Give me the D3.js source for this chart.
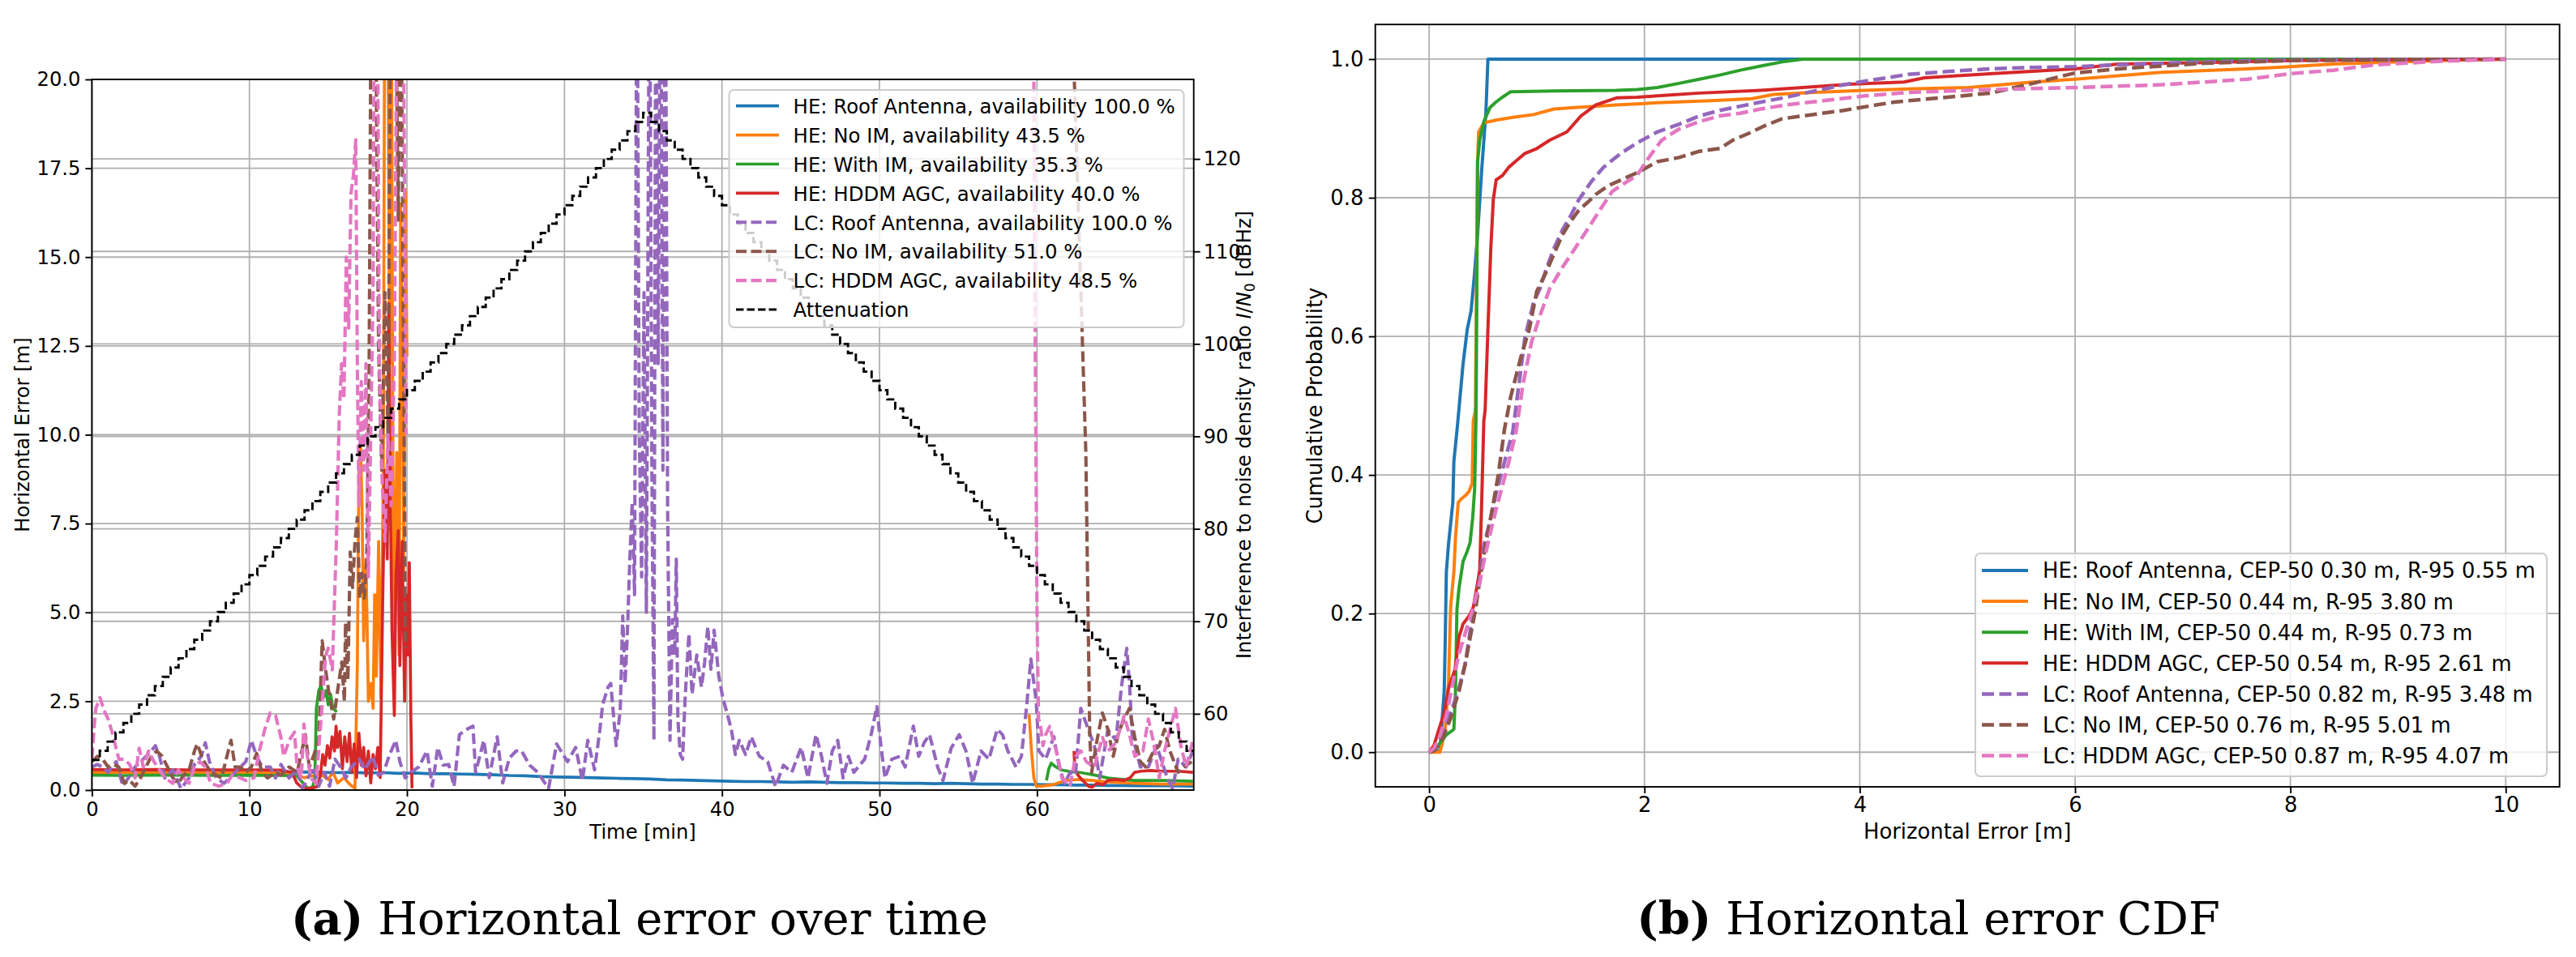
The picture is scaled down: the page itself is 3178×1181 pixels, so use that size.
<!DOCTYPE html>
<html><head><meta charset="utf-8">
<script src="https://cdn.jsdelivr.net/npm/d3@7"></script>
<style>
body{margin:0;background:#fff}
svg{display:block}
text{font-family:"DejaVu Sans",sans-serif;fill:#000}
</style>
</head><body>
<svg id="c" width="3178" height="1181"></svg>
<script>
// ---------------- DATA ----------------
const seriesNames = ["HE: Roof Antenna","HE: No IM","HE: With IM","HE: HDDM AGC","LC: Roof Antenna","LC: No IM","LC: HDDM AGC"];
const availability = ["100.0","43.5","35.3","40.0","100.0","51.0","48.5"];
const cep50 = ["0.30","0.44","0.44","0.54","0.82","0.76","0.87"];
const r95 = ["0.55","3.80","0.73","2.61","3.48","5.01","4.07"];
const attName = "Attenuation";

const timeTicks = [0,10,20,30,40,50,60];
const errTicks = [0,2.5,5,7.5,10,12.5,15,17.5,20];
const attTicks = [60,70,80,90,100,110,120];
const cdfXTicks = [0,2,4,6,8,10];
const cdfYTicks = [0,0.2,0.4,0.6,0.8,1.0];

// horizontal error over time: [time min, error m], split in available segments
const heRoof = [[[0,0.52],[0.8,0.53],[1.6,0.51],[2.5,0.53],[3.5,0.52],[4.5,0.51],[5.5,0.53],[6.5,0.52],[7.5,0.51],[8.5,0.52],[9.5,0.5],[10.5,0.52],[11.5,0.51],[12.5,0.5],[13.5,0.51],[14.5,0.5],[15.5,0.49],[16.5,0.5],[17.5,0.48],[18.5,0.49],[19.5,0.47],[20.5,0.48],[21.5,0.46],[22.5,0.46],[23.5,0.45],[24.5,0.44],[25.5,0.43],[26.5,0.41],[27.5,0.4],[28.5,0.38],[29.5,0.37],[30.5,0.36],[31.5,0.35],[32.5,0.34],[33.5,0.33],[34.5,0.32],[35.5,0.31],[36.5,0.29],[37.5,0.28],[38.5,0.27],[39.5,0.26],[40.5,0.25],[41.5,0.24],[42.5,0.24],[43.5,0.23],[44.5,0.22],[45.5,0.23],[46.5,0.22],[47.5,0.21],[48.5,0.21],[49.5,0.2],[50.5,0.2],[51.5,0.19],[52.5,0.19],[53.5,0.18],[54.5,0.19],[55.5,0.18],[56.5,0.17],[57.5,0.17],[58.5,0.16],[59.5,0.16],[60.5,0.15],[61.5,0.15],[62.5,0.14],[63.5,0.14],[64.5,0.13],[65.5,0.13],[66.5,0.12],[67.5,0.12],[68.5,0.12],[69.9,0.11]]];

const heNoIM = [
 [[0,0.5],[2,0.5],[4,0.49],[6,0.5],[8,0.49],[10,0.5],[12,0.48],[13,0.42],[13.5,0.35],[14,0.4],[14.5,0.45],[15,0.3],[15.3,0.5],[15.6,0.2],[16,0.35],[16.4,0.15],[16.7,0.05],[16.85,3.5],[16.95,9],[17.05,9.8],[17.15,8],[17.25,4.2],[17.4,6.5],[17.55,2.5],[17.7,3],[17.85,2.3],[17.95,5.5],[18.05,3.2],[18.2,7],[18.35,2.6],[18.5,9],[18.6,25],[18.75,25],[18.9,12],[19.0,25],[19.1,10],[19.2,4],[19.35,9.5],[19.5,3.8],[19.6,16.5],[19.7,12],[19.8,6],[19.9,16.9],[20.0,12.2]],
 [[59.5,2.13],[59.65,1.1],[59.8,0.34],[59.95,0.11],[60.3,0.11],[61,0.15],[61.8,0.27],[62.7,0.3],[63.5,0.27],[64.5,0.23],[66.2,0.19],[68,0.17],[69.9,0.17]]
];

const heWithIM = [
 [[0,0.42],[2,0.41],[4,0.42],[6,0.42],[8,0.41],[10,0.42],[12,0.41],[13,0.4],[13.4,0.2],[13.7,0.05],[14.0,0.08],[14.15,0.3],[14.25,2.3],[14.4,2.8],[14.55,2.95],[14.7,2.6],[14.85,2.8],[15.0,2.4],[15.15,2.7],[15.3,2.3],[15.55,2.2]],
 [[60.6,0.27],[60.75,0.6],[60.9,0.76],[61.1,0.68],[61.5,0.57],[62,0.53],[62.8,0.49],[63.7,0.42],[64.5,0.34],[65.4,0.3],[66.2,0.27],[68,0.27],[69.9,0.25]]
];

const heHddm = [
 [[0,0.58],[2,0.57],[4,0.58],[6,0.57],[8,0.57],[10,0.57],[12,0.56],[12.7,0.5],[13.0,0.2],[13.3,0.08],[13.6,0.04],[14.0,0.06],[14.3,0.1],[14.5,0.4],[14.65,1.0],[14.8,0.7],[14.95,1.25],[15.1,0.9],[15.25,1.5],[15.4,1.1],[15.5,1.8],[15.6,1.2],[15.75,1.65],[15.9,0.6],[16.05,1.5],[16.2,0.8],[16.35,1.6],[16.5,0.5],[16.65,1.3],[16.8,0.35],[16.95,1.6],[17.1,0.7],[17.25,1.2],[17.4,0.4],[17.55,1.1],[17.7,0.2],[17.85,1.0],[18.0,0.6],[18.15,1.2],[18.3,0.35],[18.45,5],[18.6,9],[18.75,6.5],[18.85,13.7],[18.95,8],[19.05,4.5],[19.2,2.1],[19.3,6],[19.45,7.3],[19.55,3.5],[19.7,7.0],[19.85,2.5],[19.95,5.5],[20.05,3.8],[20.15,6.4],[20.25,2],[20.32,0.05]],
 [[62.35,1.1],[62.4,0.6],[62.6,0.42],[62.9,0.27],[63.3,0.1],[63.5,0.08],[63.8,0.19],[64.2,0.15],[64.5,0.27],[65,0.3],[65.5,0.27],[65.9,0.34],[66.2,0.5],[66.6,0.53],[67.2,0.55],[68,0.53],[69,0.53],[69.9,0.5]]
];

const lcRoof = [[[0,0.65],[0.34,0.72],[0.68,0.65],[1.03,0.5],[1.54,0.8],[1.97,0.11],[2.31,0.34],[2.74,0.65],[3.26,0.87],[3.77,1.1],[4.03,1.25],[4.29,0.95],[4.63,0.34],[5.14,0.57],[5.66,0.04],[6.17,0.34],[6.51,0.72],[6.94,0.95],[7.2,1.33],[7.46,0.8],[7.89,0.34],[8.4,0.19],[8.91,0.42],[9.43,0.65],[9.77,0.8],[10.12,1.4],[10.46,0.95],[10.8,0.65],[11.32,0.65],[11.66,0.34],[12.0,0.72],[12.52,0.34],[13.03,0.57],[13.38,0.04],[13.72,0.34],[14.06,0.65],[14.4,0.11],[14.75,0.5],[15.09,0.11],[15.43,0.87],[15.78,0.65],[16.12,0.34],[16.46,0.65],[16.98,0.87],[17.32,0.57],[17.83,0.95],[18.18,0.42],[18.52,0.5],[18.86,0.95],[19.29,1.4],[19.55,0.8],[19.89,0.34],[20.24,0.5],[20.75,0.65],[21.27,1.1],[21.61,0.11],[21.96,1.2],[22.3,0.7],[22.65,0.72],[22.99,0.1],[23.33,1.56],[23.76,1.7],[24.19,1.8],[24.36,0.5],[24.88,1.4],[25.22,0.35],[25.73,1.5],[26.08,0.2],[26.5,0.9],[26.93,1.1],[27.28,1.1],[27.79,0.7],[28.31,0.5],[28.99,0.04],[29.5,1.3],[30.19,0.8],[30.71,1.2],[31.14,0.27],[31.48,1.4],[31.91,0.57],[32.25,1.7],[32.42,2.4],[32.77,2.9],[32.94,3.0],[33.28,1.25],[33.54,2.24],[33.7,4.9],[33.85,3.0],[34.0,4.5],[34.15,6.5],[34.3,8.1],[34.45,5.5],[34.6,25],[34.75,10],[34.9,6],[35.05,14],[35.2,5],[35.4,25],[35.55,9],[35.68,1.4],[35.8,25],[35.95,12],[36.1,25],[36.25,9],[36.4,25],[36.55,7.9],[36.7,1.4],[36.85,4.8],[37.0,3.8],[37.1,6.5],[37.2,2.0],[37.35,1.0],[37.5,0.87],[37.65,2.5],[37.9,4.4],[38.1,2.7],[38.4,3.8],[38.7,2.9],[38.9,3.6],[39.1,4.6],[39.3,3.4],[39.5,4.5],[39.8,3.2],[40.05,2.6],[40.3,2.2],[40.6,1.7],[40.85,1.0],[41.1,1.4],[41.5,1.0],[41.86,1.5],[42.37,0.95],[42.9,0.8],[43.4,0.1],[43.9,0.7],[44.43,0.5],[45.03,1.2],[45.46,0.34],[45.97,1.56],[46.32,0.95],[46.66,0.19],[47.0,1.1],[47.35,1.4],[47.69,0.34],[48.03,0.95],[48.37,0.5],[49.06,0.87],[49.49,1.6],[49.83,2.35],[50.09,1.25],[50.35,0.34],[50.78,0.87],[51.29,0.95],[51.63,0.65],[52.15,1.8],[52.49,0.95],[52.83,1.33],[53.18,1.56],[53.69,0.65],[54.03,0.27],[54.55,1.18],[55.06,1.56],[55.49,1.1],[55.92,0.19],[56.44,1.1],[56.95,0.87],[57.47,1.71],[57.81,1.56],[58.15,1.1],[58.67,0.65],[59.01,0.95],[59.35,2.4],[59.61,3.69],[59.95,2.5],[60.12,1.1],[60.55,0.87],[61.07,1.5],[61.41,0.65],[61.75,0.19],[62.1,0.5],[62.44,0.42],[62.78,2.3],[63.13,1.86],[63.64,1.25],[63.98,0.34],[64.5,1.7],[65.01,1.4],[65.36,2.9],[65.7,3.99],[65.87,3.0],[66.04,1.56],[66.56,0.65],[67.07,0.65],[67.59,1.25],[67.93,0.8],[68.27,0.34],[68.61,0.04],[68.96,0.87],[69.47,0.65],[69.9,1.1]]];

const lcNoIM = [
 [[0,0.8],[0.34,0.95],[0.68,0.87],[1.03,0.65],[1.37,0.72],[1.71,0.65],[2.05,0.19],[2.4,0.27],[2.74,0.11],[3.08,0.34],[3.43,0.65],[3.77,0.95],[4.11,1.1],[4.46,0.95],[4.8,0.65],[5.14,0.34],[5.48,0.19],[5.83,0.42],[6.17,0.57],[6.51,1.1],[6.69,1.3],[7.03,0.87],[7.54,0.5],[7.89,0.42],[8.23,0.34],[8.57,0.95],[8.83,1.4],[9.09,0.65],[9.43,0.65],[9.77,0.5],[10.12,0.65],[10.46,1.03],[10.8,0.5],[11.15,0.34],[11.66,0.5],[12.0,0.42],[12.52,0.65],[13.03,0.5],[13.55,1.56],[13.8,0.65],[14.06,0.95],[14.4,1.4],[14.62,4.2],[14.83,3.4],[15.09,2.6],[15.35,2.0],[15.6,2.8],[15.86,3.6],[16.03,2.5],[16.1,4.7],[16.25,3.1],[16.4,6.7],[16.55,5.7],[16.7,7.0],[16.85,7.67],[17.0,5.4],[17.15,6.1],[17.3,5.4],[17.45,6.5],[17.6,12],[17.75,25],[17.9,25],[18.05,20],[18.2,12.4],[18.4,9],[18.6,14],[18.8,10],[19.0,25],[19.15,25],[19.3,22],[19.45,16],[19.6,25],[19.75,15],[19.9,4]],
 [[62.2,25],[62.3,21],[63.1,9.5],[63.35,1.5],[63.47,0.5],[63.81,1.4],[64.15,2.17],[64.5,1.71],[64.84,0.95],[65.19,1.63],[65.53,2.0],[65.87,2.3],[66.21,1.48],[66.56,0.8],[66.9,0.65],[67.41,1.1],[67.76,1.25],[68.1,1.71],[68.44,1.1],[68.96,0.5],[69.3,0.65],[69.82,0.8]]
];

const lcHddm = [
 [[0,0.9],[0.15,1.8],[0.25,2.3],[0.51,2.6],[0.77,2.24],[1.03,2.0],[1.28,1.63],[1.45,1.33],[1.71,0.87],[2.05,0.87],[2.4,0.72],[2.74,0.34],[3.0,1.18],[3.26,0.65],[3.6,1.1],[3.94,0.8],[4.29,0.57],[4.63,0.34],[5.14,0.19],[5.48,0.57],[5.83,0.34],[6.17,0.19],[6.51,0.65],[6.86,0.8],[7.2,0.65],[7.54,0.19],[8.06,0.11],[8.57,0.19],[8.91,0.42],[9.43,0.34],[9.77,0.27],[10.29,0.34],[10.63,1.1],[10.97,1.7],[11.32,2.17],[11.66,2.1],[12.0,1.48],[12.18,0.95],[12.52,1.4],[12.86,1.63],[13.03,0.65],[13.29,0.34],[13.46,1.86],[13.63,1.1],[13.89,0.34],[14.23,0.19],[14.58,2.17],[14.83,3.76],[15.0,4.0],[15.26,3.38],[15.52,7],[15.7,10.5],[15.85,12],[16.0,11],[16.15,15],[16.3,13],[16.45,16.8],[16.6,17.3],[16.75,18.3],[16.85,12],[16.95,8],[17.1,11.5],[17.25,9],[17.4,12],[17.55,6],[17.7,10],[17.85,14],[17.95,25],[18.1,25],[18.25,12],[18.4,9],[18.6,7],[18.8,10],[19.0,8],[19.2,12],[19.4,25],[19.6,25],[19.8,20],[19.95,10]],
 [[59.75,25],[59.85,15],[60.0,5],[60.1,2.0],[60.21,1.86],[60.38,1.25],[60.55,1.56],[60.81,1.79],[61.07,1.33],[61.32,0.95],[61.58,0.34],[62.1,0.11],[62.44,0.95],[62.78,1.1],[63.13,0.8],[63.64,0.65],[64.15,1.48],[64.5,1.1],[65.01,1.33],[65.53,2.09],[65.87,1.56],[66.21,0.95],[66.73,1.1],[67.07,2.0],[67.41,1.33],[67.76,0.34],[68.1,1.1],[68.79,2.3],[69.13,1.25],[69.47,0.65],[69.9,1.4]]
];

// attenuation I/N0 level [dBHz], one value per half-minute step
const attStepMin = 0.5;
const attLevels = [55,56,57,58,59,60,61,62,63,64,65,66,67,68,69,70,71,72,73,74,75,76,77,78,79,80,81,82,83,84,85,86,87,88,89,90,91,92,93,94,95,96,97,98,99,100,101,102,103,104,105,106,107,108,109,110,111,112,113,114,115,116,117,118,119,120,121,122,123,124,125,
 124,123,122,121,120,119,118,117,116,115,114,113,112,111,110,109,108,107,106,105,104,103,102,101,100,99,98,97,96,95,94,93,92,91,90,89,88,87,86,85,84,83,82,81,80,79,78,77,76,75,74,73,72,71,70,69,68,67,66,65,64,63,62,61,60,59,58,57,56];

// CDF: [horizontal error m, cumulative probability]
const cdfHeRoof = [[0,0],[0.1,0.002],[0.12,0.045],[0.14,0.088],[0.15,0.166],[0.16,0.26],[0.18,0.30],[0.22,0.36],[0.23,0.42],[0.26,0.466],[0.315,0.56],[0.354,0.61],[0.39,0.637],[0.42,0.688],[0.45,0.747],[0.49,0.844],[0.527,0.922],[0.546,1.0],[10,1.0]];
const cdfHeNoIM = [[0,0],[0.1,0],[0.13,0.018],[0.15,0.033],[0.18,0.10],[0.2,0.21],[0.23,0.26],[0.245,0.31],[0.27,0.36],[0.296,0.365],[0.335,0.37],[0.37,0.376],[0.4,0.388],[0.41,0.478],[0.43,0.493],[0.45,0.852],[0.46,0.895],[0.508,0.908],[0.62,0.912],[0.78,0.916],[0.97,0.92],[1.16,0.928],[1.35,0.93],[1.74,0.934],[2.12,0.937],[2.62,0.94],[3.0,0.943],[3.2,0.949],[3.58,0.952],[4.05,0.955],[4.45,0.957],[5.01,0.959],[5.61,0.967],[6.0,0.971],[6.8,0.981],[7.6,0.986],[8.0,0.989],[8.4,0.993],[8.8,0.995],[9.4,0.998],[10,1.0]];
const cdfHeWithIM = [[0,0],[0.085,0.01],[0.16,0.025],[0.23,0.033],[0.245,0.088],[0.258,0.205],[0.277,0.236],[0.315,0.275],[0.354,0.29],[0.38,0.302],[0.404,0.337],[0.423,0.38],[0.435,0.478],[0.438,0.532],[0.45,0.852],[0.47,0.883],[0.508,0.91],[0.565,0.93],[0.62,0.938],[0.68,0.945],[0.758,0.953],[1.16,0.954],[1.74,0.955],[1.93,0.956],[2.12,0.959],[2.32,0.965],[2.51,0.971],[2.7,0.977],[2.89,0.984],[3.08,0.99],[3.28,0.996],[3.47,1.0],[10,1.0]];
const cdfHeHddm = [[0,0],[0.046,0.01],[0.085,0.03],[0.14,0.057],[0.18,0.092],[0.24,0.119],[0.277,0.166],[0.315,0.185],[0.373,0.197],[0.41,0.209],[0.45,0.244],[0.47,0.263],[0.488,0.36],[0.508,0.478],[0.52,0.493],[0.546,0.61],[0.573,0.727],[0.596,0.797],[0.623,0.826],[0.68,0.832],[0.74,0.844],[0.815,0.854],[0.89,0.864],[1.0,0.871],[1.12,0.883],[1.28,0.895],[1.41,0.918],[1.55,0.934],[1.74,0.944],[1.93,0.945],[2.12,0.947],[2.51,0.951],[3.08,0.955],[3.47,0.959],[3.93,0.964],[4.41,0.967],[4.6,0.973],[5.21,0.979],[6.0,0.986],[6.4,0.993],[7.2,0.995],[8.0,0.998],[8.8,0.999],[10,1.0]];
const cdfLcRoof = [[0,0],[0.046,0.004],[0.12,0.03],[0.2,0.057],[0.277,0.092],[0.335,0.127],[0.373,0.166],[0.41,0.205],[0.47,0.251],[0.508,0.298],[0.565,0.333],[0.62,0.372],[0.68,0.407],[0.74,0.442],[0.777,0.462],[0.835,0.532],[0.89,0.598],[0.97,0.649],[1.03,0.669],[1.085,0.696],[1.16,0.727],[1.24,0.754],[1.315,0.774],[1.39,0.797],[1.51,0.824],[1.62,0.844],[1.78,0.864],[1.93,0.879],[2.12,0.895],[2.32,0.906],[2.51,0.918],[2.7,0.926],[2.89,0.932],[3.08,0.938],[3.32,0.945],[3.55,0.953],[3.85,0.963],[4.08,0.969],[4.45,0.978],[4.81,0.982],[5.21,0.986],[5.61,0.988],[6.0,0.989],[6.4,0.992],[7.2,0.996],[8.0,0.999],[10,1.0]];
const cdfLcNoIM = [[0,0],[0.046,0.002],[0.12,0.018],[0.2,0.049],[0.277,0.088],[0.335,0.127],[0.39,0.173],[0.43,0.205],[0.47,0.248],[0.527,0.302],[0.585,0.349],[0.642,0.4],[0.7,0.466],[0.758,0.513],[0.854,0.571],[0.93,0.61],[1.0,0.665],[1.085,0.692],[1.16,0.719],[1.24,0.747],[1.315,0.766],[1.39,0.782],[1.47,0.793],[1.55,0.805],[1.66,0.817],[1.815,0.828],[1.93,0.836],[2.12,0.852],[2.32,0.858],[2.51,0.867],[2.7,0.871],[2.82,0.883],[2.97,0.893],[3.12,0.904],[3.28,0.914],[3.47,0.918],[3.85,0.926],[4.08,0.932],[4.32,0.938],[4.45,0.94],[4.81,0.945],[5.21,0.951],[5.61,0.965],[5.81,0.973],[6.0,0.98],[6.4,0.986],[7.2,0.994],[8.0,0.998],[9.0,0.999],[10,1.0]];
const cdfLcHddm = [[0,0],[0.046,0.006],[0.104,0.025],[0.16,0.053],[0.22,0.1],[0.277,0.142],[0.354,0.181],[0.41,0.209],[0.47,0.244],[0.508,0.275],[0.565,0.314],[0.62,0.349],[0.68,0.384],[0.74,0.419],[0.807,0.462],[0.873,0.532],[0.95,0.591],[1.03,0.63],[1.12,0.669],[1.24,0.7],[1.355,0.727],[1.47,0.754],[1.585,0.782],[1.7,0.809],[1.815,0.821],[1.93,0.832],[2.05,0.86],[2.16,0.883],[2.32,0.899],[2.51,0.91],[2.7,0.918],[2.89,0.922],[3.08,0.928],[3.32,0.934],[3.66,0.94],[4.05,0.947],[4.45,0.952],[5.21,0.956],[6.0,0.959],[6.8,0.963],[7.2,0.967],[7.6,0.971],[8.0,0.979],[8.4,0.984],[8.8,0.992],[9.4,0.997],[10,1.0]];

const captionA = ["(a)", " Horizontal error over time"];
const captionB = ["(b)", " Horizontal error CDF"];

// ---------------- STYLE ----------------
const palette = ["#1f77b4","#ff7f0e","#2ca02c","#d62728","#9467bd","#8c564b","#e377c2"];
const dashed = [false,false,false,false,true,true,true];
const gridColor = "#b0b0b0";

// ---------------- DRAW ----------------
const svg = d3.select("#c");
const defs = svg.append("defs");

const timeSeries = [heRoof, heNoIM, heWithIM, heHddm, lcRoof, lcNoIM, lcHddm];
const cdfSeries = [cdfHeRoof, cdfHeNoIM, cdfHeWithIM, cdfHeHddm, cdfLcRoof, cdfLcNoIM, cdfLcHddm];

// ---- left panel ----
const L = {x0:113.4, x1:1472.7, y0:98, y1:975};
const xT = d3.scaleLinear().domain([0,69.95]).range([L.x0,L.x1]);
const yE = d3.scaleLinear().domain([0,20]).range([L.y1,L.y0]);
const yA = d3.scaleLinear().domain([51.75,128.6]).range([L.y1,L.y0]);
const fsL = 24.2;
const wSolidL = 3.7, wDashL = 4.1;

defs.append("clipPath").attr("id","clipL").append("rect")
  .attr("x",L.x0).attr("y",L.y0).attr("width",L.x1-L.x0).attr("height",L.y1-L.y0);

const gL = svg.append("g");
const gridL = gL.append("g").attr("stroke",gridColor).attr("stroke-width",1.8);
timeTicks.forEach(t=>gridL.append("line").attr("x1",xT(t)).attr("x2",xT(t)).attr("y1",L.y0).attr("y2",L.y1));
errTicks.forEach(v=>gridL.append("line").attr("x1",L.x0).attr("x2",L.x1).attr("y1",yE(v)).attr("y2",yE(v)));
attTicks.forEach(v=>gridL.append("line").attr("x1",L.x0).attr("x2",L.x1).attr("y1",yA(v)).attr("y2",yA(v)));

const linesL = gL.append("g").attr("clip-path","url(#clipL)");
const lineT = d3.line().x(d=>xT(d[0])).y(d=>yE(d[1]));
timeSeries.forEach((segs,i)=>{
  segs.forEach(seg=>{
    linesL.append("path").attr("d",lineT(seg)).attr("fill","none")
      .attr("stroke",palette[i]).attr("stroke-width",dashed[i]?wDashL:wSolidL)
      .attr("stroke-dasharray",dashed[i]?"13,5.5":null)
      .attr("stroke-linejoin","round");
  });
});
const attPts = attLevels.map((v,i)=>[i*attStepMin, v]);
attPts.push([attLevels.length*attStepMin, attLevels[attLevels.length-1]]);
const lineA = d3.line().x(d=>xT(d[0])).y(d=>yA(d[1])).curve(d3.curveStepAfter);
linesL.append("path").attr("d",lineA(attPts)).attr("fill","none")
  .attr("stroke","#000").attr("stroke-width",2.9).attr("stroke-dasharray","9.5,4");

// axes left panel
function styleAxis(g, fs){
  g.select(".domain").remove();
  g.selectAll(".tick line").attr("stroke","#000").attr("stroke-width",1.9);
  g.selectAll(".tick text").attr("font-size",fs).attr("font-family","DejaVu Sans").attr("fill","#000");
}
const axB = gL.append("g").attr("transform",`translate(0,${L.y1})`)
  .call(d3.axisBottom(xT).tickValues(timeTicks).tickSize(8).tickPadding(7).tickSizeOuter(0));
styleAxis(axB, fsL);
const axLft = gL.append("g").attr("transform",`translate(${L.x0},0)`)
  .call(d3.axisLeft(yE).tickValues(errTicks).tickFormat(d3.format(".1f")).tickSize(8).tickPadding(6).tickSizeOuter(0));
styleAxis(axLft, fsL);
const axR = gL.append("g").attr("transform",`translate(${L.x1},0)`)
  .call(d3.axisRight(yA).tickValues(attTicks).tickSize(8).tickPadding(4).tickSizeOuter(0));
styleAxis(axR, fsL);
gL.append("rect").attr("x",L.x0).attr("y",L.y0).attr("width",L.x1-L.x0).attr("height",L.y1-L.y0)
  .attr("fill","none").attr("stroke","#000").attr("stroke-width",1.9);

gL.append("text").attr("x",(L.x0+L.x1)/2).attr("y",1035).attr("text-anchor","middle")
  .attr("font-size",fsL).text("Time [min]");
gL.append("text").attr("transform",`translate(36,${(L.y0+L.y1)/2}) rotate(-90)`).attr("text-anchor","middle")
  .attr("font-size",fsL).text("Horizontal Error [m]");
const rl = gL.append("text").attr("transform",`translate(1543,${(L.y0+L.y1)/2}) rotate(-90)`).attr("text-anchor","middle")
  .attr("font-size",fsL);
rl.append("tspan").text("Interference to noise density ratio ");
rl.append("tspan").attr("font-style","italic").text("I");
rl.append("tspan").text("/");
rl.append("tspan").attr("font-style","italic").text("N");
rl.append("tspan").attr("dy",5).attr("font-size",17).text("0");
rl.append("tspan").attr("dy",-5).text(" [dBHz]");

// legend left
const legL = gL.append("g");
legL.append("rect").attr("x",899.5).attr("y",111).attr("width",561).attr("height",293).attr("rx",6)
  .attr("fill","#fff").attr("fill-opacity",0.8).attr("stroke","#cccccc").attr("stroke-width",2);
const legLabelsL = seriesNames.map((n,i)=>`${n}, availability ${availability[i]} %`).concat([attName]);
legLabelsL.forEach((lab,i)=>{
  const cy = 130.7 + i*35.9;
  const isAtt = i===7;
  legL.append("line").attr("x1",908).attr("x2",961).attr("y1",cy).attr("y2",cy)
    .attr("stroke",isAtt?"#000":palette[i]).attr("stroke-width",isAtt?2.9:(dashed[i]?wDashL:wSolidL))
    .attr("stroke-dasharray",isAtt?"9.5,4":(dashed[i]?"13,5.5":null));
  legL.append("text").attr("x",978.6).attr("y",cy+9.2).attr("font-size",24.4).text(lab);
});

// ---- right panel (CDF) ----
const R = {x0:1696.7, x1:3157.7, y0:30.2, y1:971};
const xC = d3.scaleLinear().domain([-0.5,10.5]).range([R.x0,R.x1]);
const yC = d3.scaleLinear().domain([-0.05,1.05]).range([R.y1,R.y0]);
const fsR = 25.8;
const wSolidR = 4.0, wDashR = 4.5;
defs.append("clipPath").attr("id","clipR").append("rect")
  .attr("x",R.x0).attr("y",R.y0).attr("width",R.x1-R.x0).attr("height",R.y1-R.y0);
const gR = svg.append("g");
const gridR = gR.append("g").attr("stroke",gridColor).attr("stroke-width",1.8);
cdfXTicks.forEach(t=>gridR.append("line").attr("x1",xC(t)).attr("x2",xC(t)).attr("y1",R.y0).attr("y2",R.y1));
cdfYTicks.forEach(v=>gridR.append("line").attr("x1",R.x0).attr("x2",R.x1).attr("y1",yC(v)).attr("y2",yC(v)));
const linesR = gR.append("g").attr("clip-path","url(#clipR)");
const lineC = d3.line().x(d=>xC(d[0])).y(d=>yC(d[1]));
cdfSeries.forEach((s,i)=>{
  linesR.append("path").attr("d",lineC(s)).attr("fill","none")
    .attr("stroke",palette[i]).attr("stroke-width",dashed[i]?wDashR:wSolidR)
    .attr("stroke-dasharray",dashed[i]?"15,6.5":null).attr("stroke-linejoin","round");
});
const axCB = gR.append("g").attr("transform",`translate(0,${R.y1})`)
  .call(d3.axisBottom(xC).tickValues(cdfXTicks).tickSize(8).tickPadding(4.3).tickSizeOuter(0));
styleAxis(axCB, fsR);
const axCL = gR.append("g").attr("transform",`translate(${R.x0},0)`)
  .call(d3.axisLeft(yC).tickValues(cdfYTicks).tickFormat(d3.format(".1f")).tickSize(8).tickPadding(6.3).tickSizeOuter(0));
styleAxis(axCL, fsR);
gR.append("rect").attr("x",R.x0).attr("y",R.y0).attr("width",R.x1-R.x0).attr("height",R.y1-R.y0)
  .attr("fill","none").attr("stroke","#000").attr("stroke-width",1.9);
gR.append("text").attr("x",(R.x0+R.x1)/2).attr("y",1035).attr("text-anchor","middle")
  .attr("font-size",fsR).text("Horizontal Error [m]");
gR.append("text").attr("transform",`translate(1631,${(R.y0+R.y1)/2}) rotate(-90)`).attr("text-anchor","middle")
  .attr("font-size",fsR).text("Cumulative Probability");

const legR = gR.append("g");
legR.append("rect").attr("x",2437).attr("y",683).attr("width",705).attr("height",275).attr("rx",6)
  .attr("fill","#fff").attr("fill-opacity",0.8).attr("stroke","#cccccc").attr("stroke-width",2);
seriesNames.forEach((n,i)=>{
  const cy = 704 + i*38.1;
  legR.append("line").attr("x1",2445).attr("x2",2502).attr("y1",cy).attr("y2",cy)
    .attr("stroke",palette[i]).attr("stroke-width",dashed[i]?wDashR:wSolidR)
    .attr("stroke-dasharray",dashed[i]?"15,6.5":null);
  legR.append("text").attr("x",2520).attr("y",cy+9.4).attr("font-size",fsR)
    .text(`${n}, CEP-50 ${cep50[i]} m, R-95 ${r95[i]} m`);
});

// ---- captions ----
function caption(parts, cx){
  const t = svg.append("text").attr("x",cx).attr("y",1153).attr("text-anchor","middle")
    .style("font-family","'DejaVu Serif',serif").attr("font-size",56);
  t.append("tspan").attr("font-weight","bold").text(parts[0]);
  t.append("tspan").text(parts[1]);
}
caption(captionA, 789);
caption(captionB, 2379);
</script>
</body></html>
